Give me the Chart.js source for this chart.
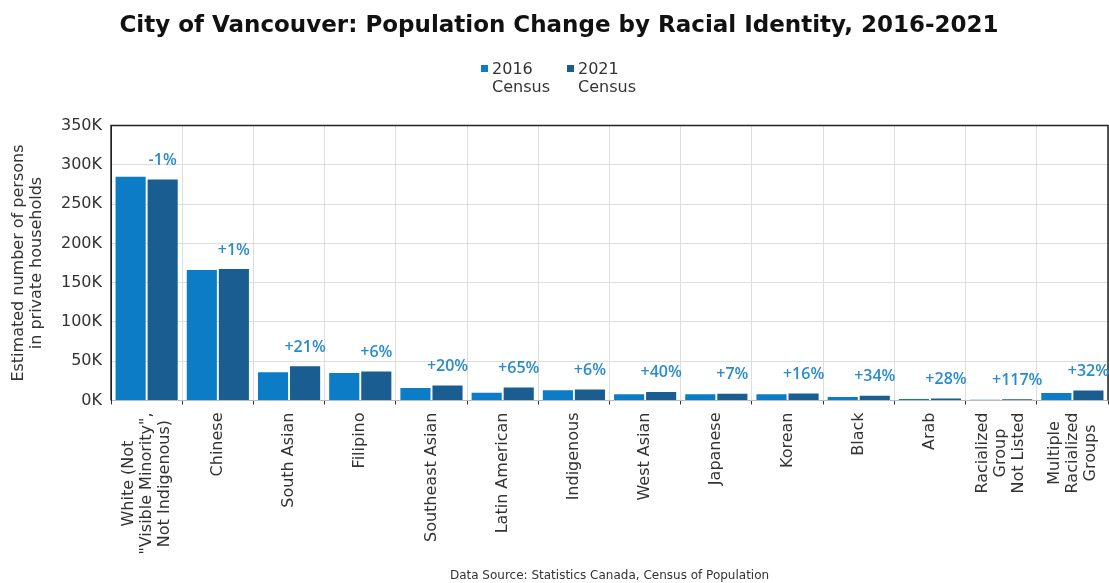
<!DOCTYPE html>
<html>
<head>
<meta charset="utf-8">
<script src="https://cdn.jsdelivr.net/npm/chart.js@4"></script>
<style>
html, body { margin: 0; padding: 0; background: #fff; }
#wrap { width: 1109px; height: 583px; position: relative; }
</style>
</head>
<body>
<div id="wrap"><canvas id="chart"></canvas></div>
<script>
// categories (multi-line labels as arrays)
const groups = [
  ['White (Not', '"Visible Minority",', 'Not Indigenous)'],
  'Chinese', 'South Asian', 'Filipino', 'Southeast Asian', 'Latin American',
  'Indigenous', 'West Asian', 'Japanese', 'Korean', 'Black', 'Arab',
  ['Racialized', 'Group', 'Not Listed'],
  ['Multiple', 'Racialized', 'Groups']
];
// persons in private households
const census2016 = [285000, 166000, 36000, 35000, 16000, 10000, 13200, 7800, 8000, 7800, 4500, 2000, 800, 9700];
const census2021 = [281500, 167500, 43500, 37000, 19200, 16500, 14000, 10900, 8560, 9050, 6030, 2560, 1740, 12800];
// change labels printed above the 2021 bars
const changeLabels = ['-1%', '+1%', '+21%', '+6%', '+20%', '+65%', '+6%', '+40%', '+7%', '+16%', '+34%', '+28%', '+117%', '+32%'];

const FONT = "'DejaVu Sans', sans-serif";
const TXT = '#333';

// cadre noir autour de la zone du graph
const frame = {
  id: 'frame',
  beforeDatasetsDraw(chart) {
    const { ctx, chartArea: a } = chart;
    ctx.save();
    ctx.strokeStyle = '#222';
    ctx.lineWidth = 1.5;
    ctx.beginPath();
    ctx.moveTo(a.left, a.bottom);
    ctx.lineTo(a.left, a.top);
    ctx.lineTo(a.right, a.top);
    ctx.lineTo(a.right, a.bottom);
    ctx.stroke();
    ctx.restore();
  }
};

// les % au dessus des barres 2021
const changeText = {
  id: 'changeText',
  afterDatasetsDraw(chart) {
    const { ctx } = chart;
    const meta = chart.getDatasetMeta(1);
    ctx.save();
    ctx.font = "600 16px 'Open Sans', sans-serif";
    ctx.fillStyle = '#2a8bcc';
    ctx.textAlign = 'center';
    ctx.textBaseline = 'middle';
    meta.data.forEach((bar, i) => {
      ctx.fillText(changeLabels[i], bar.x, bar.y - 19);
    });
    ctx.restore();
  }
};

// etiquettes X: lignes centrees (chart.js les aligne a droite quand c'est tourne)
const xLabels = {
  id: 'xLabels',
  afterDraw(chart) {
    const { ctx } = chart;
    const sc = chart.scales.x;
    const lh = 18;
    ctx.save();
    ctx.font = '16px ' + FONT;
    ctx.fillStyle = TXT;
    ctx.textAlign = 'center';
    ctx.textBaseline = 'middle';
    groups.forEach((g, i) => {
      const lines = Array.isArray(g) ? g : [g];
      const maxW = Math.max(...lines.map(t => ctx.measureText(t).width));
      const x = sc.getPixelForTick(i);
      ctx.save();
      ctx.translate(x, sc.top + 12 + maxW / 2);
      ctx.rotate(-Math.PI / 2);
      lines.forEach((t, j) => ctx.fillText(t, 0, (j - (lines.length - 1) / 2) * lh));
      ctx.restore();
    });
    ctx.restore();
  }
};

// legende sur 2 lignes (box + "2016" / "Census")
const legendBlock = {
  id: 'legendBlock',
  afterDraw(chart) {
    const { ctx } = chart;
    const sets = chart.data.datasets;
    ctx.save();
    ctx.font = '16px ' + FONT;
    const widths = sets.map(ds => 11 + Math.max(...ds.label.map(t => ctx.measureText(t).width)));
    const gap = 17;
    const total = widths.reduce((a, b) => a + b, 0) + gap * (sets.length - 1);
    let x = (chart.width - total) / 2 + 4;
    const y = 70;
    ctx.textAlign = 'left';
    ctx.textBaseline = 'middle';
    sets.forEach((ds, i) => {
      ctx.fillStyle = ds.backgroundColor;
      ctx.fillRect(x, y - 5, 7, 7);
      ctx.fillStyle = TXT;
      ds.label.forEach((t, j) => ctx.fillText(t, x + 11, y + j * 18));
      x += widths[i] + gap;
    });
    ctx.restore();
  }
};

const ctx = document.getElementById('chart').getContext('2d');
const chart = new Chart(ctx, {
  type: 'bar',
  data: {
    labels: groups,
    datasets: [
      {
        label: ['2016', 'Census'],
        data: census2016,
        backgroundColor: '#0b7cc5',
        categoryPercentage: 0.9,
        barPercentage: 0.94
      },
      {
        label: ['2021', 'Census'],
        data: census2021,
        backgroundColor: '#1a5e91',
        categoryPercentage: 0.9,
        barPercentage: 0.94
      }
    ]
  },
  options: {
    responsive: true,
    maintainAspectRatio: false,
    animation: false,
    layout: { padding: { top: 6, left: 10, right: 1, bottom: 0 } },
    plugins: {
      title: {
        display: true,
        text: 'City of Vancouver: Population Change by Racial Identity, 2016-2021',
        color: '#111',
        font: { family: FONT, size: 23, weight: 'bold' },
        padding: { top: 6, bottom: 86 }
      },
      legend: { display: false },
      tooltip: { enabled: false }
    },
    scales: {
      x: {
        grid: { color: '#ddd', tickColor: '#333', tickLength: 4, offset: true },
        border: { color: '#bbb' },
        ticks: {
          color: 'rgba(0,0,0,0)',
          font: { family: FONT, size: 16, lineHeight: 18 / 16 },
          maxRotation: 90,
          minRotation: 90,
          autoSkip: false,
          padding: 8
        },
        title: {
          display: true,
          text: 'Data Source: Statistics Canada, Census of Population',
          color: TXT,
          font: { family: FONT, size: 12 },
          padding: { top: 6, bottom: 0 }
        },
        afterFit(scale) {
          // pas de marge a droite pour la derniere etiquette
          scale.paddingRight = 0;
          scale.paddingLeft = 0;
        }
      },
      y: {
        min: 0,
        max: 350000,
        grid: { color: '#ddd', drawTicks: false },
        border: { color: '#222' },
        ticks: {
          stepSize: 50000,
          color: TXT,
          padding: 9,
          font: { family: FONT, size: 16 },
          callback: v => (v / 1000) + 'K'
        },
        title: {
          display: true,
          text: ['Estimated number of persons', 'in private households'],
          color: TXT,
          font: { family: FONT, size: 16, lineHeight: 18 / 16 },
          padding: { top: 0, bottom: 6 }
        }
      }
    }
  },
  plugins: [frame, changeText, xLabels, legendBlock]
});
</script>
</body>
</html>
